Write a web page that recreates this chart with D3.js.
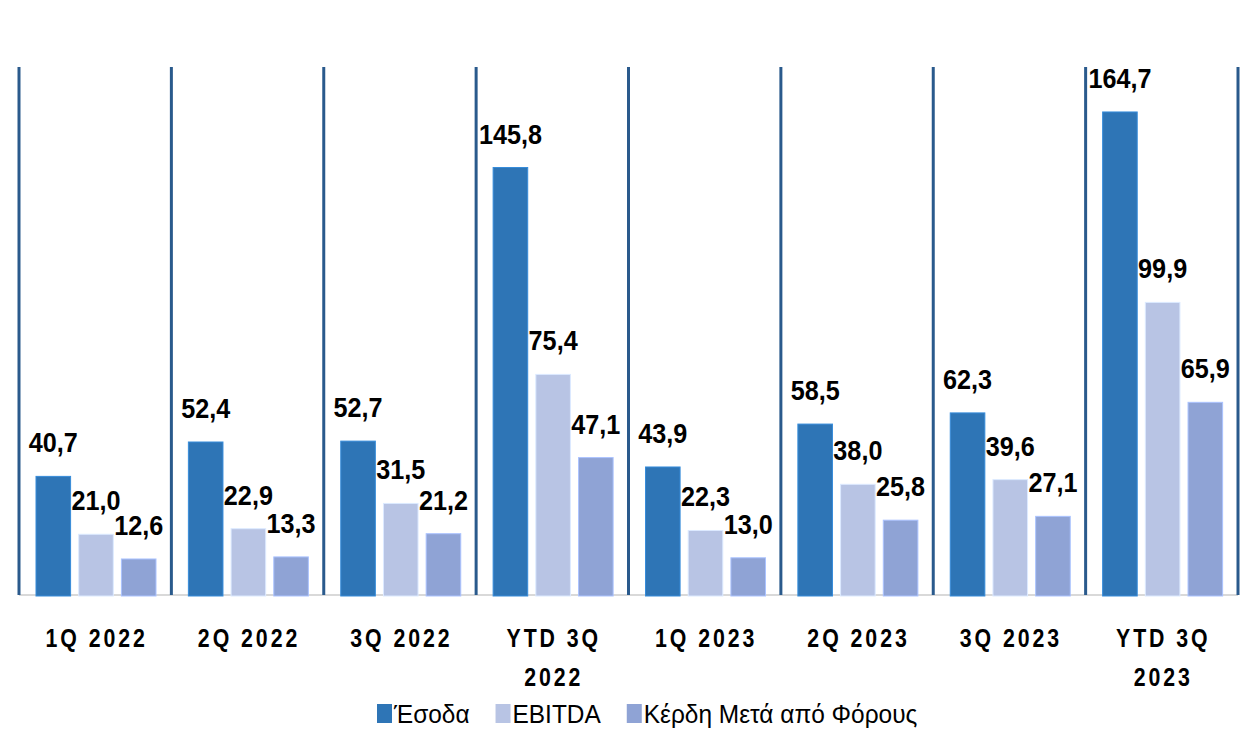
<!DOCTYPE html>
<html>
<head>
<meta charset="utf-8">
<script src="https://cdn.jsdelivr.net/npm/d3@7"></script>
<style>
body { margin: 0; background: #fff; }
text { font-family: "Liberation Sans", Arial, sans-serif; fill: #000; }
</style>
</head>
<body>
<div id="chart"></div>
<script>
var categories = ["1Q 2022", "2Q 2022", "3Q 2022", "YTD 3Q|2022", "1Q 2023", "2Q 2023", "3Q 2023", "YTD 3Q|2023"];
var seriesNames = ["Έσοδα", "EBITDA", "Κέρδη Μετά από Φόρους"];
var revenue = [40.7, 52.4, 52.7, 145.8, 43.9, 58.5, 62.3, 164.7];
var ebitda = [21.0, 22.9, 31.5, 75.4, 22.3, 38.0, 39.6, 99.9];
var profit = [12.6, 13.3, 21.2, 47.1, 13.0, 25.8, 27.1, 65.9];
var colors = ["#2E75B6", "#B8C4E4", "#8FA3D5"];

var width = 1252, height = 749;
var plotLeft = 19, plotRight = 1238, plotTop = 67, plotBottom = 596;

var svg = d3.select("#chart").append("svg")
  .attr("width", width)
  .attr("height", height);

var x0 = d3.scaleBand().domain(categories).range([plotLeft, plotRight]);
var x1 = d3.scaleBand().domain(seriesNames).range([17, 137]).paddingInner(0.19);
var y = d3.scaleLinear().domain([0, 180]).range([plotBottom, plotTop]);

var allSeries = [revenue, ebitda, profit];

//squeeze text horizontally, the original uses a narrow font
function narrow(sel, x, yy, k) {
  return sel.attr("transform", "translate(" + x + "," + yy + ") scale(" + k + ",1)");
}

//baseline
svg.append("line")
  .attr("x1", plotLeft).attr("x2", plotRight)
  .attr("y1", plotBottom - 1).attr("y2", plotBottom - 1)
  .attr("stroke", "#d9d9d9").attr("stroke-width", 2);

//bars
var groups = svg.selectAll(".group")
  .data(categories)
  .enter().append("g")
  .attr("class", "group")
  .attr("transform", function(d){ return "translate(" + x0(d) + ",0)"; });

groups.each(function(cat, i) {
  var g = d3.select(this);
  var rows = seriesNames.map(function(s, j){ return {s: s, v: allSeries[j][i], c: colors[j]}; });

  g.selectAll("rect")
    .data(rows)
    .enter().append("rect")
    .attr("x", function(d){ return x1(d.s); })
    .attr("y", function(d){ return y(d.v); })
    .attr("width", x1.bandwidth())
    .attr("height", function(d){ return y(0) - y(d.v); })
    .attr("fill", function(d){ return d.c; })
    .attr("stroke", function(d){ return d3.color(d.c).brighter(0.5); })
    .attr("stroke-width", 1);

  g.selectAll(".lbl")
    .data(rows)
    .enter().append("text")
    .attr("class", "lbl")
    .attr("text-anchor", "middle")
    .style("font-size", "28px")
    .style("font-weight", "bold")
    .each(function(d){ narrow(d3.select(this), x1(d.s) + x1.bandwidth() / 2, y(d.v) - 24, 0.9); })
    .text(function(d){ return d.v.toFixed(1).replace(".", ","); });
});

//divider lines
svg.selectAll(".divider")
  .data(d3.range(categories.length + 1))
  .enter().append("line")
  .attr("class", "divider")
  .attr("x1", function(i){ return plotLeft + i * x0.step(); })
  .attr("x2", function(i){ return plotLeft + i * x0.step(); })
  .attr("y1", plotTop).attr("y2", plotBottom - 1)
  .attr("stroke", "#2A5A8C").attr("stroke-width", 3);

//category labels
categories.forEach(function(d) {
  d.split("|").forEach(function(line, k) {
    var t = svg.append("text")
      .attr("class", "xlabel")
      .attr("text-anchor", "middle")
      .style("font-size", "26px")
      .style("font-weight", "bold")
      .style("letter-spacing", "3.6px")
      .text(line);
    narrow(t, x0(d) + x0.bandwidth() / 2 + 1.5, 647 + k * 39, 0.82);
  });
});

//legend
var lx = 377;
var legendSqueeze = 0.94;
seriesNames.forEach(function(s, j) {
  svg.append("rect")
    .attr("x", lx).attr("y", 704)
    .attr("width", 15).attr("height", 19)
    .attr("fill", colors[j]);
  var t = svg.append("text")
    .style("font-size", "26px")
    .text(s);
  narrow(t, lx + 17, 723, legendSqueeze);
  lx += 17 + t.node().getComputedTextLength() * legendSqueeze + 26;
});
</script>
</body>
</html>
